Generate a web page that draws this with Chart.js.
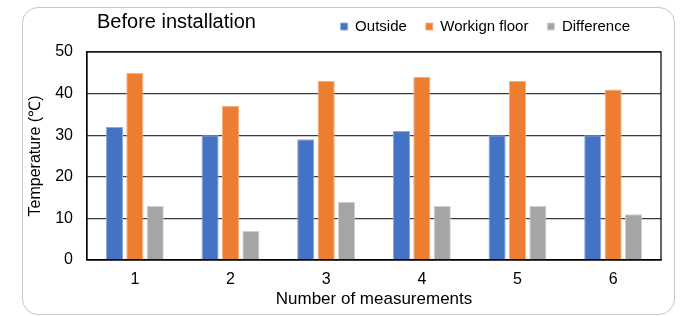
<!DOCTYPE html>
<html>
<head>
<meta charset="utf-8">
<script src="https://cdn.jsdelivr.net/npm/chart.js@4"></script>
<style>
  html, body { margin: 0; padding: 0; background: #fff; }
  #wrap { position: relative; width: 680px; height: 316px; overflow: hidden; }
  #frame { position: absolute; left: 22px; top: 7px; width: 653px; height: 308px; border: 1px solid #c8c8c8; border-radius: 16px; box-sizing: border-box; }
  canvas { position: absolute; left: 0; top: 0; }
</style>
</head>
<body>
<div id="wrap">
  <div id="frame"></div>
  <canvas id="c" width="680" height="316"></canvas>
</div>
<script>
const chartTitle = "Before installation";
const categories = ["1", "2", "3", "4", "5", "6"];
const outside = [32, 30, 29, 31, 30, 30];
const workingFloor = [45, 37, 43, 44, 43, 41];
const difference = [13, 7, 14, 13, 13, 11];
const seriesNames = ["Outside", "Workign floor", "Difference"];
const yTitle = "Temperature (\u2103)";
const xTitle = "Number of measurements";

const FONT = "'Liberation Sans', Arial, sans-serif";

const legendNudge = {
  id: 'legendNudge',
  afterLayout(chart) {
    const lg = chart.legend;
    if (!lg) return;
    lg.top -= 8; lg.bottom -= 8;
    lg.right -= 12;
  }
};

const framePlugin = {
  id: 'framePlugin',
  afterDraw(chart) {
    const {ctx, chartArea: a} = chart;
    ctx.save();
    ctx.strokeStyle = '#000';
    ctx.lineWidth = 1.2;
    ctx.strokeRect(a.left, a.top, a.right - a.left, a.bottom - a.top);
    ctx.fillStyle = '#000';
    ctx.font = "20px " + FONT;
    ctx.textBaseline = 'middle';
    ctx.textAlign = 'left';
    ctx.fillText(chartTitle, a.left + 10, 22);
    ctx.restore();
  }
};

new Chart(document.getElementById('c'), {
  type: 'bar',
  data: {
    labels: categories,
    datasets: [
      { label: seriesNames[0], data: outside, backgroundColor: '#4472C4', borderColor: '#8fa9dc', borderWidth: 1 },
      { label: seriesNames[1], data: workingFloor, backgroundColor: '#ED7D31', borderColor: '#f4b083', borderWidth: 1 },
      { label: seriesNames[2], data: difference, backgroundColor: '#A5A5A5', borderColor: '#d0d0d0', borderWidth: 1 }
    ]
  },
  options: {
    responsive: false,
    animation: false,
    devicePixelRatio: 1,
    layout: { padding: { left: 22, right: 19, top: 8, bottom: 6 } },
    datasets: { bar: { categoryPercentage: 0.64, barPercentage: 0.84 } },
    plugins: {
      title: { display: false },
      tooltip: { enabled: false },
      legend: {
        position: 'top',
        align: 'end',
        labels: {
          boxWidth: 7, boxHeight: 7, padding: 19,
          color: '#000',
          font: { size: 15, family: FONT }
        }
      }
    },
    scales: {
      x: {
        grid: { display: false, drawTicks: false },
        border: { color: '#000', width: 1.2 },
        ticks: { color: '#000', padding: 10, font: { size: 16, family: FONT } },
        title: { display: true, text: xTitle, color: '#000', padding: { top: 0, bottom: 0 }, font: { size: 17, family: FONT } },
        afterFit(s) { s.height = 50; }
      },
      y: {
        min: 0, max: 50,
        ticks: { stepSize: 10, color: '#000', padding: 14, font: { size: 16, family: FONT } },
        grid: { color: '#3c3c3c', lineWidth: 1.2, drawTicks: false },
        border: { color: '#000', width: 1.2 },
        title: { display: true, text: yTitle, color: '#000', padding: { top: 4, bottom: 0 }, font: { size: 16, family: FONT } },
        afterFit(s) { s.width = 65; }
      }
    }
  },
  plugins: [legendNudge, framePlugin]
});
</script>
</body>
</html>
